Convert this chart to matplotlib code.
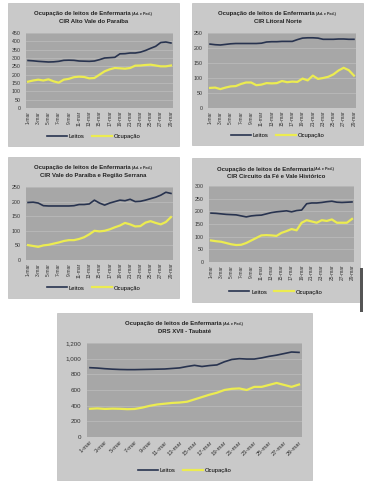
import matplotlib.pyplot as plt
from matplotlib.patches import Rectangle
from matplotlib.ticker import FuncFormatter

plt.rcParams['font.family'] = ['Liberation Sans', 'DejaVu Sans']

# dias de março
dias = list(range(1, 30))
rotulos = ['%d-mar' % d for d in dias]

titulos = ['CIR Alto Vale do Paraíba',
           'CIR Litoral Norte',
           'CIR Vale do Paraíba e Região Serrana',
           'CIR Circuito da Fé e Vale Histórico',
           'DRS XVII - Taubaté']

leitos_1 = [285, 283, 280, 278, 276, 277, 280, 286, 287, 286, 282, 281, 280, 282, 290,
            300, 302, 304, 325, 326, 330, 330, 335, 345, 358, 370, 393, 396, 390]
ocup_1 = [158, 165, 170, 165, 172, 160, 152, 170, 175, 185, 188, 186, 178, 180, 200,
          220, 232, 240, 238, 236, 240, 254, 255, 258, 260, 255, 250, 250, 255]

leitos_2 = [213, 211, 210, 212, 214, 215, 215, 215, 215, 215, 216, 220, 221, 221, 222,
            222, 222, 228, 233, 234, 234, 233, 229, 229, 229, 230, 230, 229, 229]
ocup_2 = [67, 68, 63, 68, 72, 73, 80, 85, 85, 76, 78, 83, 82, 83, 90,
          86, 88, 87, 98, 92, 108, 97, 100, 104, 112, 125, 134, 126, 104]
ocup_2 = ocup_2[:-1] + [108]

leitos_3 = [197, 198, 195, 186, 185, 185, 185, 185, 185, 186, 190, 190, 192, 205, 195,
            188, 195, 200, 205, 203, 208, 200, 201, 205, 210, 215, 222, 232, 228]
ocup_3 = [51, 48, 45, 50, 52, 56, 60, 65, 68, 68, 72, 78, 88, 100, 98,
          100, 105, 112, 118, 127, 122, 115, 116, 128, 133, 127, 122, 130, 147]

leitos_4 = [193, 192, 190, 188, 187, 186, 182, 178, 182, 184, 185, 190, 195, 198, 200,
            202, 198, 203, 205, 230, 233, 233, 235, 238, 240, 236, 235, 236, 237]
ocup_4 = [85, 82, 80, 75, 70, 67, 68, 75, 85, 95, 105, 106, 105, 103, 115,
          122, 130, 125, 155, 165, 160, 155, 165, 162, 168, 155, 155, 155, 170]

leitos_5 = [885, 880, 872, 866, 862, 860, 860, 862, 864, 866, 868, 875, 882, 900, 915,
            900, 912, 920, 960, 990, 1000, 995, 995, 1010, 1030, 1045, 1065, 1085, 1080]
ocup_5 = [360, 365, 358, 362, 360, 355, 358, 375, 398, 415, 425, 435, 440, 450, 480,
          510, 540, 565, 600, 615, 620, 600, 640, 640, 665, 690, 665, 640, 670]

ymax = [450, 250, 250, 300, 1200]
ypasso = [50, 50, 50, 50, 200]
series = [(leitos_1, ocup_1), (leitos_2, ocup_2), (leitos_3, ocup_3),
          (leitos_4, ocup_4), (leitos_5, ocup_5)]

W, H = 366, 483
# caixa externa (x0, y0, x1, y1) e area do grafico, em pixels
caixas = [(8, 3, 179, 146), (192, 3, 363, 145), (8, 157, 179, 298),
          (192, 158, 360, 302), (57, 313, 312, 480)]
areas = [(26, 33, 173, 108), (208, 33, 356, 108), (26, 187, 173, 260),
         (209, 186, 354, 262), (87, 343, 302, 437)]

fundo_caixa = '#c9c9c9'
fundo_area = '#a7a7a7'
cor_leitos = '#28334f'
cor_ocup = '#ecec50'

fig = plt.figure(figsize=(W / 100, H / 100), dpi=100)
fig.patch.set_facecolor('white')

def fx(px):
    return px / W

def fy(py):
    return 1 - py / H

for i in range(5):
    bx0, by0, bx1, by1 = caixas[i]
    fig.patches.append(Rectangle((fx(bx0), fy(by1)), fx(bx1 - bx0), (by1 - by0) / H,
                                 transform=fig.transFigure, facecolor=fundo_caixa,
                                 edgecolor='#bdbdbd', linewidth=0.5, zorder=-5))
    x0, y0, x1, y1 = areas[i]
    ax = fig.add_axes([fx(x0), fy(y1), fx(x1 - x0), (y1 - y0) / H])
    ax.set_facecolor(fundo_area)
    l, o = series[i]
    ax.plot(dias, l, color=cor_leitos, lw=1.2, label='Leitos')
    ax.plot(dias, o, color=cor_ocup, lw=1.6, label='Ocupação')
    ax.set_xlim(0.6, 29.4)
    ax.set_ylim(0, ymax[i])
    ax.set_yticks(range(0, ymax[i] + 1, ypasso[i]))
    ax.yaxis.set_major_formatter(FuncFormatter(lambda v, p: '{:,.0f}'.format(v)))
    ax.set_xticks(dias[::2])
    if i < 4:
        ax.set_xticklabels(rotulos[::2], rotation=90, fontsize=3.5, color='#333333')
    else:
        ax.set_xticklabels(rotulos[::2], rotation=45, ha='right', rotation_mode='anchor',
                           fontsize=4.2, color='#333333')
    ax.tick_params(axis='y', labelsize=3.8 if i < 4 else 4.5, length=0, pad=4,
                   colors='#333333')
    ax.tick_params(axis='x', length=0, pad=2)
    ax.grid(axis='y', color='#bababa', lw=0.6)
    ax.set_axisbelow(True)
    for s in ax.spines.values():
        s.set_visible(False)

    # titulo
    cx = fx((bx0 + bx1) / 2)
    ty = fy(by0 + 11)
    fs = 4.3
    t = fig.text(cx - 0.03, ty, 'Ocupação de leitos de Enfermaria', ha='center', va='center',
                 fontsize=fs, fontweight='bold', color='#222222')
    ax.annotate(' (Ad. e Ped.)', xy=(1, 0.45), xycoords=t, va='center', ha='left',
                fontsize=2.6, fontweight='bold', color='#222222', annotation_clip=False)
    fig.text(cx, ty - 7.5 / H, titulos[i], ha='center', va='center',
             fontsize=fs, fontweight='bold', color='#222222')

    ly = by1 - 10
    ax.legend(loc='center', bbox_to_anchor=(((bx0 + bx1) / 2 - x0) / (x1 - x0),
                                            (y1 - ly) / (y1 - y0)),
              ncol=2, frameon=False, fontsize=4.2, handlelength=3.5, columnspacing=1.2,
              handletextpad=0.3)

# barra cinza lateral que aparece na imagem
fig.patches.append(Rectangle((fx(360), fy(312)), fx(3), 44 / H, transform=fig.transFigure,
                             facecolor='#555555', edgecolor='none', zorder=1))

fig.savefig('out.png', dpi=100)
